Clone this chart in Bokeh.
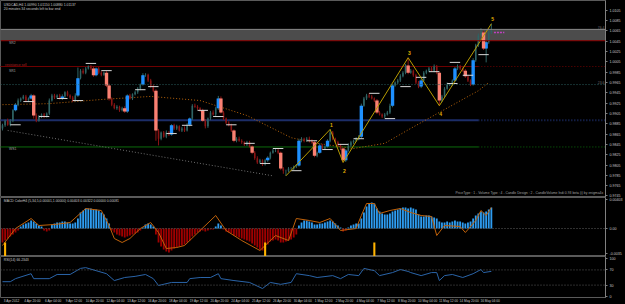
from bokeh.plotting import figure
from bokeh.layouts import column
from bokeh.models import LinearAxis, FixedTicker, Span, BoxAnnotation, Label, Range1d, NumeralTickFormatter
from bokeh.embed import file_html
from bokeh.resources import INLINE

# ---------------- data (USDCAD H4) ----------------
open0 = 0.9876
close = [
    0.9882, 0.9891, 0.9883, 0.9891, 0.9911, 0.9922, 0.9930, 0.9934, 0.9938, 0.9930,
    0.9934, 0.9940, 0.9901, 0.9891, 0.9899, 0.9903, 0.9899, 0.9905, 0.9930, 0.9940,
    0.9936, 0.9940, 0.9934, 0.9938, 0.9946, 0.9940, 0.9936, 0.9930, 0.9940, 0.9973,
    0.9988, 0.9984, 0.9992, 0.9996, 0.9992, 0.9979, 0.9992, 0.9984, 0.9980, 0.9984,
    0.9959, 0.9934, 0.9922, 0.9915, 0.9918, 0.9911, 0.9915, 0.9909, 0.9940, 0.9934,
    0.9942, 0.9946, 0.9953, 0.9961, 0.9979, 0.9980, 0.9969, 0.9957, 0.9949, 0.9872,
    0.9856, 0.9868, 0.9860, 0.9868, 0.9864, 0.9882, 0.9876, 0.9880, 0.9872, 0.9876,
    0.9872, 0.9883, 0.9895, 0.9920, 0.9918, 0.9915, 0.9911, 0.9891, 0.9880, 0.9895,
    0.9907, 0.9903, 0.9915, 0.9934, 0.9907, 0.9895, 0.9887, 0.9882, 0.9872, 0.9852,
    0.9856, 0.9852, 0.9849, 0.9845, 0.9849, 0.9841, 0.9829, 0.9818, 0.9810, 0.9814,
    0.9806, 0.9814, 0.9819, 0.9829, 0.9833, 0.9833, 0.9829, 0.9798, 0.9794, 0.9794,
    0.9798, 0.9798, 0.9802, 0.9804, 0.9852, 0.9856, 0.9852, 0.9856, 0.9852, 0.9849,
    0.9823, 0.9829, 0.9843, 0.9837, 0.9841, 0.9852, 0.9868, 0.9856, 0.9849, 0.9843,
    0.9837, 0.9814, 0.9833, 0.9843, 0.9849, 0.9852, 0.9856, 0.9860, 0.9920, 0.9934,
    0.9940, 0.9938, 0.9934, 0.9930, 0.9907, 0.9903, 0.9899, 0.9903, 0.9907, 0.9920,
    0.9959, 0.9965, 0.9969, 0.9977, 0.9984, 0.9998, 0.9984, 0.9988, 0.9979, 0.9965,
    0.9957, 0.9969, 0.9984, 0.9988, 0.9992, 0.9988, 0.9996, 0.9984, 0.9930, 0.9938,
    0.9953, 0.9961, 0.9961, 0.9969, 0.9992, 0.9996, 0.9992, 0.9988, 0.9977, 0.9969,
    0.9961, 1.0008, 1.0037, 1.0056, 1.0062, 1.0031, 1.0043, 1.0062, 1.0066]

# wick extension beyond the body, in pips
wick_up = [
    3, 2, 4, 3, 2, 3, 4, 2, 3, 3, 2, 3, 2, 4, 3, 2, 3, 2, 4, 3,
    3, 2, 3, 4, 2, 3, 2, 3, 4, 21, 3, 4, 3, 2, 3, 4, 2, 3, 3, 2,
    3, 4, 2, 3, 3, 2, 3, 4, 2, 3, 2, 3, 3, 2, 4, 3, 2, 3, 4, 3,
    3, 2, 3, 4, 3, 2, 3, 3, 2, 3, 4, 3, 2, 3, 4, 3, 2, 3, 3, 2,
    3, 4, 3, 5, 4, 3, 2, 3, 3, 2, 3, 4, 3, 2, 3, 3, 2, 3, 4, 3,
    2, 3, 3, 2, 4, 3, 3, 2, 3, 2, 3, 3, 2, 3, 4, 3, 2, 3, 4, 3,
    3, 2, 4, 3, 2, 3, 6, 3, 2, 3, 3, 2, 3, 4, 3, 2, 3, 3, 4, 3,
    3, 4, 3, 2, 3, 3, 2, 3, 3, 4, 3, 2, 3, 4, 3, 3, 15, 3, 2, 3,
    3, 4, 3, 2, 3, 3, 4, 3, 2, 3, 3, 4, 3, 2, 3, 4, 3, 2, 3, 3,
    2, 4, 3, 4, 8, 3, 3, 4, 13]
wick_dn = [
    4, 3, 2, 3, 3, 2, 3, 3, 2, 3, 3, 2, 6, 3, 2, 3, 3, 2, 3, 2,
    3, 3, 2, 3, 3, 2, 3, 3, 2, 3, 2, 3, 3, 2, 3, 3, 2, 3, 3, 2,
    3, 4, 3, 2, 3, 3, 2, 3, 3, 2, 3, 2, 3, 3, 2, 3, 3, 2, 3, 20,
    13, 3, 2, 3, 3, 2, 3, 3, 2, 3, 3, 2, 3, 3, 2, 3, 3, 2, 4, 3,
    3, 2, 3, 3, 2, 3, 3, 2, 3, 3, 3, 2, 3, 3, 3, 2, 3, 3, 3, 2,
    3, 2, 3, 3, 2, 3, 3, 3, 6, 10, 3, 2, 3, 3, 2, 3, 3, 2, 3, 3,
    3, 3, 2, 3, 3, 2, 3, 3, 2, 3, 3, 4, 3, 2, 3, 3, 2, 3, 3, 2,
    3, 3, 2, 3, 3, 2, 3, 3, 2, 3, 3, 2, 3, 3, 2, 3, 3, 2, 3, 3,
    3, 3, 2, 3, 3, 2, 3, 3, 10, 3, 3, 2, 3, 3, 2, 3, 3, 2, 3, 3,
    3, 2, 3, 3, 2, 3, 27, 3, 3]

bright_up = [5, 11, 23, 29, 36, 48, 54, 65, 72, 83, 102, 114, 122, 125, 132, 138, 150, 161, 174, 181, 186]
bright_dn = [12, 35, 40, 41, 47, 59, 77, 84, 89, 96, 107, 120, 131, 144, 156, 168, 178, 185]

# pivot markers (bar, price)
mark_bar = [5, 10, 16, 23, 29, 34, 40, 53, 58, 65, 71, 77, 83, 88, 95, 101, 106, 113, 119, 125,
            131, 137, 143, 149, 155, 161, 166, 173, 174, 179, 185]
mark_price = [0.9883, 0.9928, 0.9899, 0.9934, 0.9930, 1.0002, 0.9988, 0.9951, 0.9957, 0.9866,
              0.9882, 0.9911, 0.9899, 0.9883, 0.9847, 0.9808, 0.9837, 0.9794, 0.9852, 0.9835,
              0.9845, 0.9856, 0.9944, 0.9895, 0.9957, 0.9975, 0.9986, 0.9963, 1.0004, 0.9979, 1.0019]

# slow moving average (orange dotted)
ma_bar = [0, 18, 38, 57, 76, 94, 111, 121, 135, 147, 157, 168, 183, 187]
ma_val = [0.9922, 0.9924, 0.9932, 0.9938, 0.9930, 0.9901, 0.9858, 0.9847, 0.9837, 0.9847,
          0.9876, 0.9907, 0.9949, 0.9965]

# descending trend line
trend_bar = [2, 104]
trend_val = [0.9872, 0.9784]

# zigzag wave count
zz_bar = [109, 126, 131, 156, 168, 188]
zz_val = [0.9784, 0.9874, 0.9810, 1.0013, 0.9920, 1.0079]
zz_text = ["", "1", "2", "3", "4", "5"]

# horizontal levels
zone_top, zone_bot = 1.0068, 1.0046
lvl_red, lvl_teal, lvl_navy, lvl_green = 0.9996, 0.9961, 0.9892, 0.9840
bid = 1.0062

price_ticks = [0.9745, 0.9765, 0.9785, 0.9805, 0.9825, 0.9845, 0.9865, 0.9885, 0.9905, 0.9925,
               0.9945, 0.9965, 0.9985, 1.0005, 1.0025, 1.0045, 1.0065, 1.0085, 1.0105]

# MACD histogram (points, 1e-5)
hist_pts = [
    -196, -168, -140, -112, -84, -56, -28, 28, 56, 70, 84, 112, 98, 70, 42, 28, -28, -42, -28, 56,
    70, 84, 84, 98, 98, 84, 70, 70, 84, 140, 224, 252, 280, 280, 280, 266, 266, 252, 224, 196,
    140, 70, -28, -56, -84, -98, -112, -126, -112, -98, -84, -70, -56, -28, 14, 56, 70, 56, 28, -84,
    -196, -252, -294, -322, -336, -308, -280, -266, -252, -238, -224, -196, -168, -112, -84, -56, -42, -28, -42, -28,
    -14, -14, 28, 70, 42, -14, -42, -56, -70, -98, -112, -126, -140, -154, -168, -182, -210, -238, -266, -294,
    -308, -280, -224, -182, -168, -154, -168, -196, -196, -182, -168, -154, -126, -84, 42, 84, 112, 112, 98, 84,
    56, 56, 70, 70, 84, 98, 112, 98, 70, 42, 14, -42, -28, 14, 42, 56, 70, 70, 140, 224,
    308, 350, 364, 350, 280, 238, 210, 196, 196, 210, 238, 252, 266, 280, 294, 294, 280, 294, 280, 266,
    196, 168, 168, 182, 182, 168, 154, 140, 98, 84, 84, 98, 84, 98, 112, 98, 98, 84, 70, 84,
    98, 140, 182, 210, 238, 224, 238, 266, 294]
macd_bar = [0, 5, 11, 14, 20, 26, 32, 38, 41, 43, 46, 49, 53, 57, 60, 63, 67, 70, 76, 82,
            86, 92, 99, 105, 110, 113, 118, 122, 126, 130, 136, 138, 140, 143, 145, 149, 153, 157, 161, 165,
            167, 170, 176, 178, 182, 184, 186, 188]
macd_pts = [-238, 0, 140, 42, 56, 84, 280, 252, 42, -140, -196, -140, 0, 84, -56, -280, -266, -238, -28, 182,
            -28, -168, -308, -98, -168, 140, 112, 84, 140, -28, 0, 182, 350, 350, 210, 252, 280, 224, 182, 168,
            -98, 42, 28, -56, 112, 252, 182, 294]
signal_bars = [1, 101, 143]
signal_top = -0.00196

# RSI(14)
rsi_bar = [0, 3, 5, 11, 12, 18, 21, 26, 30, 32, 36, 40, 43, 47, 51, 55, 58, 60, 65, 71,
           72, 76, 80, 83, 84, 89, 95, 100, 103, 107, 111, 113, 118, 121, 127, 130, 133, 137, 139, 143,
           145, 150, 153, 156, 157, 161, 165, 167, 168, 170, 173, 177, 181, 184, 185, 188]
rsi_val = [39, 39, 47, 60, 47, 47, 58, 58, 74, 76, 68, 60, 42, 50, 53, 58, 47, 29, 37, 37,
           47, 50, 50, 60, 47, 42, 37, 21, 37, 32, 37, 60, 55, 50, 55, 47, 58, 55, 74, 68,
           55, 63, 71, 66, 63, 55, 63, 63, 42, 55, 58, 50, 60, 71, 63, 66.2]

time_labels = ["3 Apr 2012", "4 Apr 20:00", "6 Apr 04:00", "9 Apr 12:00", "10 Apr 20:00", "12 Apr 04:00",
               "13 Apr 12:00", "16 Apr 20:00", "18 Apr 04:00", "19 Apr 12:00", "20 Apr 20:00", "24 Apr 04:00",
               "25 Apr 12:00", "26 Apr 20:00", "30 Apr 04:00", "1 May 12:00", "2 May 20:00", "4 May 04:00",
               "7 May 12:00", "8 May 20:00", "10 May 04:00", "11 May 12:00", "14 May 20:00", "16 May 04:00"]

# ---------------- styling ----------------
FONT = "Liberation Sans"
AXC = "#c8c8c8"
GRID = "#5a5a5a"
n = len(close)
idx = list(range(n))
opn = [open0] + close[:-1]
high = [max(a, b) + u * 1e-4 for a, b, u in zip(opn, close, wick_up)]
low = [min(a, b) - d * 1e-4 for a, b, d in zip(opn, close, wick_dn)]

xr = Range1d(-0.77, 231.9)


def make(fh, yr, mb=0):
    p = figure(frame_width=605, frame_height=fh, x_range=xr, y_range=yr,
               output_backend="svg", toolbar_location=None,
               x_axis_location=None, y_axis_location=None,
               min_border_left=0, min_border_right=20, min_border_top=0, min_border_bottom=mb,
               background_fill_color="black", border_fill_color="black",
               outline_line_color=GRID, outline_line_width=1)
    p.grid.visible = False
    return p


def raxis(p, ticks, overrides=None, fmt=None):
    ax = LinearAxis(ticker=FixedTicker(ticks=ticks))
    if overrides:
        ax.major_label_overrides = overrides
    if fmt:
        ax.formatter = NumeralTickFormatter(format=fmt)
    ax.axis_line_color = "#808080"
    ax.major_tick_line_color = "#808080"
    ax.major_tick_out = 2
    ax.major_tick_in = 0
    ax.minor_tick_out = 0
    ax.minor_tick_in = 0
    ax.major_label_standoff = 2
    ax.major_label_text_font = FONT
    ax.major_label_text_font_size = "3.6px"
    ax.major_label_text_color = AXC
    p.add_layout(ax, "right")


def lab(p, x, y, text, color=AXC, size="3.4px", align="left", bold=False):
    p.add_layout(Label(x=x, y=y, text=text, text_color=color, text_font=FONT, text_font_size=size,
                       text_align=align, text_baseline="middle",
                       text_font_style="bold" if bold else "normal"))


# ---------------- main price panel ----------------
p1 = make(197, Range1d(0.9742, 1.0124))
raxis(p1, price_ticks, fmt="0.0000")

p1.add_layout(BoxAnnotation(bottom=zone_bot, top=zone_top, fill_color="#4c4c4c", fill_alpha=1,
                            line_color=None, level="underlay"))
p1.add_layout(Span(location=zone_top, dimension="width", line_color="#8a8a8a", line_width=1))
p1.add_layout(Span(location=zone_bot, dimension="width", line_color="#8b0000", line_width=1))
p1.add_layout(Span(location=lvl_teal, dimension="width", line_color="#2a6060", line_width=1, line_dash="1 2"))
end_bar = 183
for lvl, col, w in [(lvl_red, "#6e0000", 1), (lvl_navy, "#1c2d68", 2), (lvl_green, "#0b6b0b", 1)]:
    p1.segment(x0=[-1], y0=[lvl], x1=[end_bar], y1=[lvl], line_color=col, line_width=w)
    p1.segment(x0=[end_bar], y0=[lvl], x1=[232], y1=[lvl], line_color=col, line_width=w, line_dash="1 2")

p1.line(trend_bar, trend_val, line_color="#6e6e6e", line_width=1, line_dash="1 2")
p1.line(ma_bar, ma_val, line_color="#b8640a", line_width=1, line_dash="1 2")

up = [c >= o for o, c in zip(opn, close)]
wcol = ["#2f6464" if u else "#8b1414" for u in up]
p1.segment(x0=idx, y0=low, x1=idx, y1=high, line_color=wcol, line_width=1)
p1.vbar(x=idx, width=0.6, bottom=[min(a, b) for a, b in zip(opn, close)],
        top=[max(a, b) for a, b in zip(opn, close)], fill_color=wcol, line_color=None)
p1.vbar(x=bright_up, width=1.3, bottom=[opn[i] for i in bright_up], top=[close[i] for i in bright_up],
        fill_color="#1e90ff", line_color=None)
p1.vbar(x=bright_dn, width=1.3, bottom=[close[i] for i in bright_dn], top=[opn[i] for i in bright_dn],
        fill_color="#fa8072", line_color=None)

p1.segment(x0=[b - 2 for b in mark_bar], y0=mark_price, x1=[b + 2 for b in mark_bar], y1=mark_price,
           line_color="#d8d8d8", line_width=1)

p1.line(zz_bar, zz_val, line_color="#b89c00", line_width=1)
for i, (b, v, t) in enumerate(zip(zz_bar, zz_val, zz_text)):
    if not t:
        continue
    peak = i % 2 == 1
    lab(p1, b + 0.5, v + (0.0009 if peak else -0.0016), t, color="#e0b000", size="5px",
        align="center", bold=True)

p1.segment(x0=[189], y0=[bid], x1=[193], y1=[bid], line_color="#c040c0", line_width=1.5, line_dash="2 1")

lab(p1, 0.5, 1.0116, "USDCAD,H4  1.00990 1.01150 1.00880 1.01137")
lab(p1, 0.5, 1.0107, "20 minutes 34 seconds left to bar end")
lab(p1, 2.5, 1.0041, "SR2", color="#a0a0a0")
lab(p1, 1.0, 0.99985, "resistance sell", color="#b02020")
lab(p1, 2.5, 0.9988, "SR1", color="#a0a0a0")
lab(p1, 2.5, 0.9837, "WS1", color="#a0a0a0")
lab(p1, 231.5, 1.0072, "76.4", color="#707070", align="right")
lab(p1, 231.5, 0.9965, "23.6", color="#707070", align="right")
lab(p1, 231.0, 0.9751,
    "PriceType : 1 - Volume Type : 4 - Candle Design : 2 - CandleVolume Indi 0.93 beta (i) by enigma4x",
    color="#a0a0a0", align="right")

# ---------------- MACD panel ----------------
p2 = make(59, Range1d(-0.00392, 0.00434))
raxis(p2, [0.00403, 0, -0.0035], overrides={0.00403: "0.00403", 0: "0.00", -0.0035: "-0.0035"})
p2.add_layout(Span(location=0, dimension="width", line_color="#606060", line_width=1, line_dash="1 2"))
hist = [v * 1e-5 for v in hist_pts]
hcol = ["#2e9cf0" if v >= 0 else "#a00000" for v in hist]
p2.vbar(x=idx, width=0.7, bottom=0, top=hist, fill_color=hcol, line_color=None)
p2.line(macd_bar, [v * 1e-5 for v in macd_pts], line_color="#c0620a", line_width=1)
p2.vbar(x=signal_bars, width=0.8, bottom=-0.0045, top=signal_top, fill_color="#ffb300", line_color=None)
lab(p2, 0.5, 0.0039, "MACD ColorH4 (5,34,5,0.00001,1.00000) 0.00403 0.00322 0.00000 0.00081")

# ---------------- RSI panel ----------------
p3 = make(41, Range1d(-2.6, 105.3), mb=7)
raxis(p3, [100, 70, 30, 0], overrides={100: "100", 70: "70", 30: "30", 0: "0"})
for lv in (70, 30):
    p3.add_layout(Span(location=lv, dimension="width", line_color="#5a5a5a", line_width=1, line_dash="1 2"))
p3.line(rsi_bar, rsi_val, line_color="#2a64a8", line_width=1)
lab(p3, 0.5, 97, "RSI(14) 66.2343")

tpos = [i * 8 + 3.5 for i in range(len(time_labels))]
bx = LinearAxis(ticker=FixedTicker(ticks=tpos), major_label_overrides=dict(zip(tpos, time_labels)))
bx.axis_line_color = None
bx.major_tick_out = 0
bx.major_tick_in = 0
bx.minor_tick_out = 0
bx.minor_tick_in = 0
bx.major_label_standoff = 1
bx.major_label_text_font = FONT
bx.major_label_text_font_size = "3.2px"
bx.major_label_text_color = AXC
p3.add_layout(bx, "below")

layout = column(p1, p2, p3, spacing=0)
html = file_html(layout, INLINE, title="USDCAD H4")
html = html.replace("<head>", "<head><style>html,body{margin:0;padding:0;background:#000;}</style>", 1)
open("out.html", "w").write(html)
